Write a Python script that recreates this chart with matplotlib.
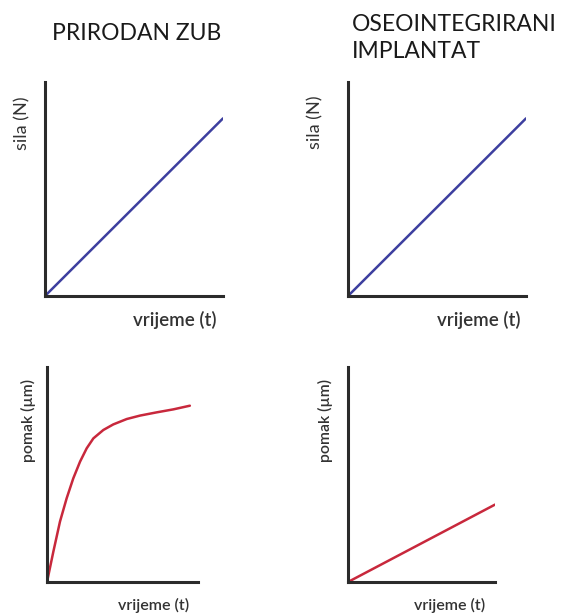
import matplotlib.pyplot as plt

plt.rcParams["font.family"] = ["Lato", "DejaVu Sans"]

W, H = 563, 615

# --- data (axes normalised 0..1) ---
sila_t = [0.0, 1.0]
sila_zub = [0.0, 0.83]
sila_implantat = [0.0, 0.83]

pomak_zub_t = [0.0, 0.042, 0.086, 0.130, 0.174, 0.219, 0.263, 0.307, 0.373,
               0.439, 0.528, 0.616, 0.726, 0.837, 0.946]
pomak_zub = [0.0, 0.141, 0.281, 0.389, 0.482, 0.560, 0.622, 0.668, 0.707,
             0.733, 0.758, 0.774, 0.789, 0.803, 0.820]

pomak_impl_t = [0.0, 1.0]
pomak_impl = [0.0, 0.36]

titles = ["PRIRODAN ZUB", "OSEOINTEGRIRANI\nIMPLANTAT"]
ylabel_top = "sila (N)"
ylabel_bot = "pomak (\u00b5m)"
xlabel = "vrijeme (t)"

BLUE = "#3d3f9f"
RED = "#c8283c"
AXC = "#2b2b2b"


def px(x, y):
    return x / W, 1 - y / H


def make_ax(fig, left, right, top, bottom):
    ax = fig.add_axes([left / W, 1 - bottom / H, (right - left) / W, (bottom - top) / H])
    ax.set_xlim(0, 1)
    ax.set_ylim(0, 1)
    for s in ["top", "right"]:
        ax.spines[s].set_visible(False)
    for s in ["left", "bottom"]:
        ax.spines[s].set_linewidth(2.2)
        ax.spines[s].set_color(AXC)
    ax.set_xticks([])
    ax.set_yticks([])
    ax.patch.set_alpha(0)
    return ax


fig = plt.figure(figsize=(W / 100, H / 100), dpi=100)

ax1 = make_ax(fig, 45, 223, 82, 296)
ax1.plot(sila_t, sila_zub, color=BLUE, lw=1.8, solid_capstyle="round")
ax2 = make_ax(fig, 348, 526, 82, 296)
ax2.plot(sila_t, sila_implantat, color=BLUE, lw=1.8, solid_capstyle="round")
ax3 = make_ax(fig, 47, 198, 367, 582)
ax3.plot(pomak_zub_t, pomak_zub, color=RED, lw=1.8, solid_capstyle="round",
         solid_joinstyle="round")
ax4 = make_ax(fig, 348, 495, 367, 582)
ax4.plot(pomak_impl_t, pomak_impl, color=RED, lw=1.8, solid_capstyle="round")

# titles
fig.text(*px(137, 33), titles[0], ha="center", va="center", fontsize=16.5, color="#1a1a1a")
fig.text(*px(352, 38), titles[1], ha="left", va="center", fontsize=16.5, color="#1a1a1a",
         linespacing=1.4)

# y labels
fig.text(*px(22, 123), ylabel_top, rotation=90, ha="center", va="center", fontsize=13,
         color="#333333")
fig.text(*px(315, 122), ylabel_top, rotation=90, ha="center", va="center", fontsize=13,
         color="#333333")
fig.text(*px(28, 420), ylabel_bot, rotation=90, ha="center", va="center", fontsize=11.3,
         fontweight="semibold", color="#333333")
fig.text(*px(325, 421), ylabel_bot, rotation=90, ha="center", va="center", fontsize=11.3,
         fontweight="semibold", color="#333333")

# x labels
fig.text(*px(175, 320), xlabel, ha="center", va="center", fontsize=13.5,
         fontweight="semibold", color="#333333")
fig.text(*px(479, 320), xlabel, ha="center", va="center", fontsize=13.5,
         fontweight="semibold", color="#333333")
fig.text(*px(154, 605), xlabel, ha="center", va="center", fontsize=11.5,
         fontweight="semibold", color="#333333")
fig.text(*px(450, 605), xlabel, ha="center", va="center", fontsize=11.5,
         fontweight="semibold", color="#333333")

fig.savefig("out.png", dpi=100)
